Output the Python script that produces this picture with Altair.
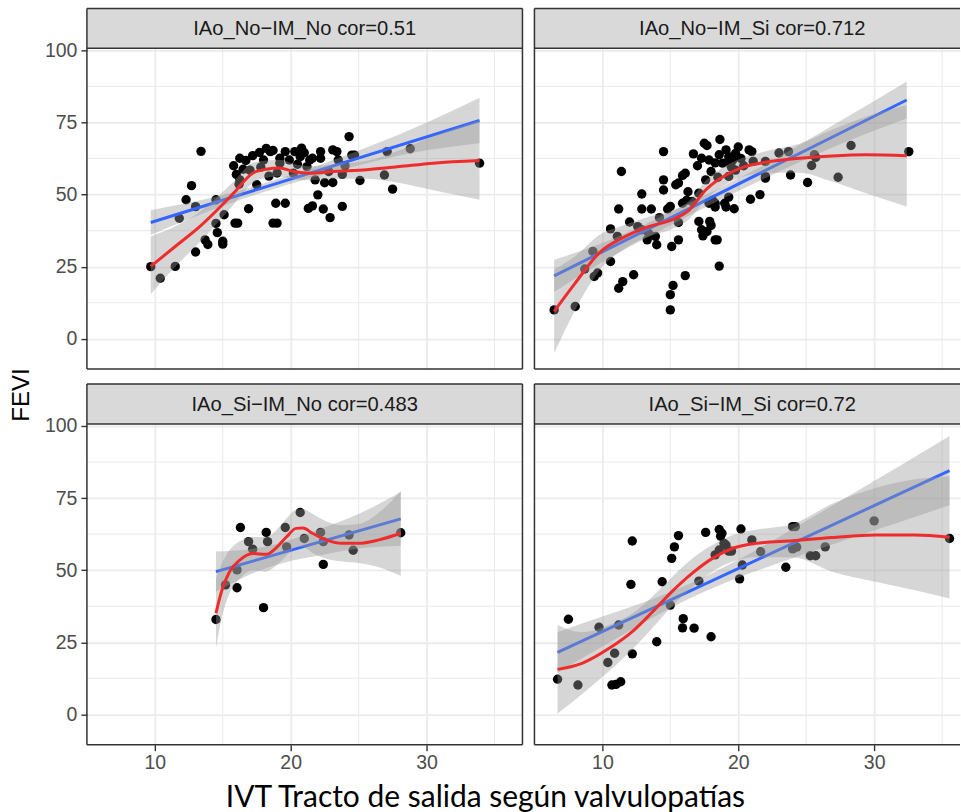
import altair as alt
import pandas as pd

# ---------------- data ----------------
strip_labels = ["IAo_No−IM_No cor=0.51", "IAo_No−IM_Si cor=0.712",
                "IAo_Si−IM_No cor=0.483", "IAo_Si−IM_Si cor=0.72"]
x_title = "IVT Tracto de salida según valvulopatías"
y_title = "FEVI"
x_ticks = [10, 20, 30]
y_ticks = [0, 25, 50, 75, 100]
x_minor = [15, 25, 35]
y_minor = [12.5, 37.5, 62.5, 87.5]

# --- IAo_No-IM_No ---
tl_x = [9.7, 10.4, 11.5, 11.8, 12.3, 12.7, 13.0, 13.0, 13.4, 13.7, 13.9, 14.5, 14.5, 14.6, 15.0,
        15.0, 15.1, 15.9, 16.1, 15.8, 16.0, 16.25, 16.2, 16.25, 16.9, 16.7, 17.2, 17.5, 17.7, 18.2,
        18.5, 18.7, 18.4, 18.7, 19.0, 18.9, 19.6, 19.6, 19.2, 19.2, 19.9, 20.2, 20.3, 20.8, 20.7,
        21.2, 21.4, 21.6, 21.3, 21.6, 21.8, 22.0, 22.2, 22.2, 22.4, 22.9, 22.5, 23.1, 23.1, 23.4,
        23.5, 23.8, 24.3, 24.5, 24.7, 25.1, 26.9, 27.1, 27.5, 28.8, 33.9, 17.0, 17.8, 19.0, 20.5,
        22.8, 23.8, 24.0, 16.5, 18.0, 21.0]
tl_y = [25.0, 21.0, 25.1, 41.8, 48.2, 53.1, 45.8, 30.1, 65.0, 34.3, 32.7, 48.2, 40.0, 36.8, 33.8,
        32.8, 43.0, 40.1, 40.1, 60.0, 57.0, 55.1, 53.6, 62.6, 45.1, 61.8, 63.5, 53.4, 64.6, 66.0,
        64.9, 65.3, 56.4, 40.1, 40.1, 47.0, 47.0, 64.9, 60.9, 62.6, 62.0, 57.4, 64.9, 66.1, 63.1,
        59.7, 62.0, 62.6, 45.2, 46.1, 55.1, 49.9, 64.9, 62.6, 45.0, 42.0, 54.1, 54.2, 65.5, 64.9,
        62.0, 45.9, 70.1, 63.7, 63.7, 54.9, 56.8, 64.9, 51.9, 65.9, 60.9, 58.5, 59.5, 57.5, 60.5,
        58.0, 57.0, 60.0, 58.8, 62.0, 64.5]
tl_lm_x = [9.7, 33.9]
tl_lm_y = [40.3, 75.7]
tl_lmb_x = [9.7, 14, 19.5, 24, 29, 33.9]
tl_lmb_lo = [36.0, 44.3, 53.1, 58.9, 64.5, 67.8]
tl_lmb_hi = [44.6, 48.7, 56.1, 63.5, 72.9, 83.6]
tl_lo_x = [9.7, 11.5, 13.3, 15.8, 17.2, 18.2, 19.2, 20.2, 21.4, 23.1, 25.6, 28.0, 30.5, 33.9]
tl_lo_y = [25.1, 32.0, 38.9, 50.5, 57.4, 58.8, 59.2, 58.0, 57.4, 58.0, 58.6, 59.7, 60.9, 61.8]
tl_lo_lo = [15.5, 25.0, 33.5, 46.5, 54.0, 55.8, 56.3, 55.3, 55.0, 55.5, 55.5, 54.0, 51.5, 48.2]
tl_lo_hi = [35.5, 39.0, 44.0, 54.5, 61.0, 61.8, 62.1, 60.7, 59.8, 60.5, 61.7, 65.4, 70.3, 75.8]

# --- IAo_No-IM_Si ---
tr_x = [6.45, 8.0, 8.7, 9.3, 9.4, 9.65, 10.6, 10.6, 11.1, 11.2, 11.4, 11.2, 11.5, 12.3, 12.6,
        12.9, 12.9, 13.6, 13.3, 13.4, 12.9, 13.9, 14.0, 14.5, 14.5, 14.5, 14.8, 15.0, 15.1, 15.0,
        15.0, 15.2, 16.1, 15.6, 15.6, 15.9, 15.6, 15.9, 16.1, 15.4, 16.2, 16.6, 16.7, 17.1, 17.1,
        17.3, 17.6, 17.3, 17.7, 17.4, 17.9, 17.7, 17.85, 18.1, 18.3, 18.3, 18.45, 18.6, 18.65, 18.6,
        18.85, 18.3, 19.1, 19.3, 19.3, 19.5, 19.6, 19.7, 19.1, 19.0, 19.3, 19.8, 19.3, 20.9, 21.0,
        21.6, 22.0, 22.0, 23.0, 23.7, 23.85, 25.1, 25.4, 25.7, 27.35, 28.3, 32.55, 18.0, 18.5, 19.8,
        20.2, 20.4, 17.0, 16.3, 12.0, 20.0, 17.5, 20.8, 21.1, 22.0, 25.6, 17.85, 18.0, 18.3, 14.2]
tr_y = [10.0, 11.2, 24.2, 30.3, 21.6, 22.8, 26.8, 38.1, 35.5, 45.0, 58.0, 17.5, 19.8, 22.2, 38.9,
        50.2, 45.0, 45.0, 34.3, 36.6, 37.8, 35.5, 32.6, 64.9, 55.1, 51.6, 45.0, 45.9, 32.0, 10.0,
        15.3, 18.5, 21.9, 40.3, 34.3, 47.0, 54.0, 56.6, 57.4, 53.4, 48.0, 47.6, 64.1, 40.7, 50.5,
        62.6, 55.1, 37.8, 37.2, 35.7, 40.7, 67.0, 62.0, 48.0, 45.7, 47.0, 34.3, 25.2, 69.1, 63.8,
        60.9, 61.0, 65.5, 63.1, 61.2, 59.5, 62.0, 45.1, 45.7, 47.0, 49.1, 64.3, 56.3, 48.4, 64.9,
        50.0, 56.3, 61.5, 64.4, 64.9, 56.8, 54.2, 60.1, 62.9, 56.0, 67.0, 64.9, 58.0, 56.0, 58.5,
        62.5, 60.0, 60.0, 51.0, 40.5, 66.5, 67.8, 65.5, 61.5, 55.7, 63.8, 47.0, 39.3, 34.3, 42.0]
tr_lm_x = [6.45, 32.4]
tr_lm_y = [21.8, 82.8]
tr_lmb_x = [6.45, 10, 16, 22, 27, 32.4]
tr_lmb_lo = [16.2, 26.6, 41.8, 55.7, 66.5, 76.4]
tr_lmb_hi = [27.4, 33.2, 46.2, 60.5, 74.1, 89.2]
tr_lo_x = [6.45, 8.0, 9.75, 11.7, 13.4, 15.1, 16.4, 17.6, 19.1, 20.5, 22.0, 24.5, 26.9, 29.4, 32.4]
tr_lo_y = [9.5, 19.3, 29.7, 35.5, 38.9, 41.2, 44.7, 51.6, 56.8, 59.7, 61.2, 62.6, 63.4, 63.8, 63.5]
tr_lo_lo = [-5.0, 10.0, 23.5, 31.5, 35.5, 38.0, 41.5, 48.4, 53.6, 56.4, 57.5, 57.6, 54.5, 50.5, 45.9]
tr_lo_hi = [24.0, 28.6, 35.9, 39.5, 42.3, 44.4, 47.9, 54.8, 60.0, 63.0, 65.0, 67.6, 72.5, 77.0, 81.1]

# --- IAo_Si-IM_No ---
bl_x = [14.5, 15.2, 16.05, 16.05, 16.3, 16.9, 17.2, 18.0, 18.2, 18.3, 19.6, 19.7, 20.7, 21.0,
        22.2, 22.4, 22.4, 24.3, 24.6, 28.1]
bl_y = [32.9, 44.9, 43.9, 50.1, 64.8, 59.9, 57.3, 37.0, 63.1, 59.9, 64.8, 58.1, 70.0, 61.0,
        63.1, 52.0, 59.9, 62.2, 56.9, 63.0]
bl_lm_x = [14.5, 28.1]
bl_lm_y = [49.5, 67.8]
bl_lmb_x = [14.5, 17, 19.5, 22, 25, 28.1]
bl_lmb_lo = [42.5, 48.5, 52.6, 55.0, 57.5, 58.5]
bl_lmb_hi = [56.5, 57.3, 59.8, 64.0, 69.5, 77.1]
bl_lo_x = [14.5, 14.9, 15.5, 16.25, 17.2, 18.2, 18.9, 19.7, 20.4, 20.9, 21.6, 22.6, 23.8, 25.0, 26.5, 28.1]
bl_lo_y = [35.1, 42.5, 49.5, 53.5, 55.8, 55.5, 57.6, 61.6, 64.5, 64.6, 62.8, 60.5, 59.3, 59.3, 60.5, 62.8]
bl_lo_lo = [23, 33, 42, 47, 50, 49.5, 51.5, 55, 58, 58, 56, 54, 53, 52.5, 51, 48]
bl_lo_hi = [47, 52, 57, 60, 61.5, 61.5, 63.7, 68, 71, 71.2, 69.6, 67, 65.6, 66, 70, 77.5]

# --- IAo_Si-IM_Si ---
br_x = [6.7, 7.5, 8.2, 9.75, 10.4, 10.9, 10.7, 11.0, 11.35, 11.2, 12.2, 12.1, 12.2, 14.0, 14.4,
        15.0, 15.1, 15.3, 15.6, 15.95, 15.9, 16.75, 17.1, 17.6, 18.0, 18.6, 18.7, 18.3, 18.6, 18.95,
        19.1, 19.3, 19.5, 18.8, 20.2, 20.1, 20.3, 21.0, 21.65, 23.5, 24.0, 24.2, 24.0, 24.3, 25.3,
        25.7, 26.4, 30.0, 35.55]
br_y = [12.2, 33.0, 10.2, 30.2, 18.0, 21.2, 10.2, 10.4, 11.3, 31.0, 60.1, 45.1, 21.0, 25.2, 46.0,
        37.9, 54.1, 58.1, 62.0, 33.2, 30.0, 29.9, 46.2, 63.1, 26.9, 64.1, 61.8, 55.3, 57.0, 59.3,
        58.7, 56.6, 56.6, 62.8, 64.3, 47.0, 51.8, 60.5, 56.4, 51.0, 65.1, 65.1, 57.4, 58.0, 55.0,
        55.0, 58.1, 67.1, 61.0]
br_lm_x = [6.7, 35.55]
br_lm_y = [21.5, 84.5]
br_lmb_x = [6.7, 10, 14, 17, 20, 24, 28, 32, 35.55]
br_lmb_lo = [14.5, 23.5, 34.3, 41.5, 47.4, 54.1, 60.6, 66.9, 72.5]
br_lmb_hi = [28.5, 33.9, 40.5, 46.5, 53.6, 64.3, 75.4, 86.5, 96.5]
br_lo_x = [6.7, 8.5, 10.5, 12.2, 13.7, 15.1, 16.6, 18.1, 19.6, 21.3, 24.0, 26.9, 30.1, 33.0, 35.55]
br_lo_y = [15.6, 17.7, 22.9, 28.7, 35.6, 42.5, 48.9, 54.1, 57.6, 59.3, 60.2, 61.3, 62.2, 62.2, 61.4]
br_lo_lo = [0.3, 7, 15, 22.5, 30, 37.5, 44, 49.5, 53, 54.5, 54.5, 49.5, 46, 43, 40.2]
br_lo_hi = [31, 28.5, 31, 35, 41, 47.5, 54, 58.7, 62.2, 64, 66, 73, 78.5, 81.5, 82.6]

# ---------------- layout / style ----------------
W_L, W_R, H, STRIP = 436, 426, 321, 40
Y_DOM = [-10.5, 100.7]
XDOM_L = [5.0, 37.06]
XDOM_R = [5.0, 36.32]
BORDER = "#333333"
BW = 1.5
GRID = "#EBEBEB"
FONT = "Liberation Sans"


def panel(label, px, py, lmx, lmy, lbx, lblo, lbhi, lox, loy, lolo, lohi,
          width, xdom, show_x, show_y, right_border):
    xs = alt.Scale(domain=xdom, nice=False, zero=False)
    ys = alt.Scale(domain=Y_DOM, nice=False, zero=False)
    common = dict(title=None, grid=True, gridColor=GRID, gridWidth=1.8, domain=False,
                  tickColor=BORDER, tickWidth=1.4, tickSize=6, labelColor="#4D4D4D",
                  labelFont=FONT, labelFontSize=19.5)
    xa = alt.Axis(values=x_ticks, labels=show_x, ticks=show_x, labelPadding=3, **common)
    ya = alt.Axis(values=y_ticks, labels=show_y, ticks=show_y, labelPadding=4, **common)

    def X(f):
        return alt.X(f, type="quantitative", scale=xs, axis=xa)

    def Y(f):
        return alt.Y(f, type="quantitative", scale=ys, axis=ya)

    one = pd.DataFrame({"label": [label]})
    layers = []
    layers.append(alt.Chart(pd.DataFrame({"y": y_minor})).mark_rule(color=GRID, strokeWidth=1.1)
                  .encode(y=Y("y")))
    layers.append(alt.Chart(pd.DataFrame({"x": x_minor})).mark_rule(color=GRID, strokeWidth=1.1)
                  .encode(x=X("x")))
    layers.append(alt.Chart(one).mark_rect(fill="#D9D9D9")
                  .encode(x=alt.value(0), x2=alt.value(width), y=alt.value(-STRIP), y2=alt.value(0)))
    layers.append(alt.Chart(one).mark_text(font=FONT, fontSize=20.2, color="#1A1A1A",
                                            align="center", baseline="middle")
                  .encode(text="label:N", x=alt.value(218), y=alt.value(-STRIP / 2 + 1)))
    layers.append(alt.Chart(pd.DataFrame({"x": px, "y": py})).mark_circle(size=88, color="black", opacity=1)
                  .encode(x=X("x"), y=Y("y")))
    layers.append(alt.Chart(pd.DataFrame({"x": lbx, "lo": lblo, "hi": lbhi}))
                  .mark_area(color="#999999", opacity=0.4, interpolate="monotone")
                  .encode(x=X("x"), y=Y("lo"), y2=alt.Y2("hi")))
    layers.append(alt.Chart(pd.DataFrame({"x": lmx, "y": lmy}))
                  .mark_line(color="#3366FF", strokeWidth=3)
                  .encode(x=X("x"), y=Y("y")))
    layers.append(alt.Chart(pd.DataFrame({"x": lox, "lo": lolo, "hi": lohi}))
                  .mark_area(color="#999999", opacity=0.4, interpolate="monotone")
                  .encode(x=X("x"), y=Y("lo"), y2=alt.Y2("hi")))
    layers.append(alt.Chart(pd.DataFrame({"x": lox, "y": loy}))
                  .mark_line(color="#EE2C2C", strokeWidth=3, interpolate="monotone")
                  .encode(x=X("x"), y=Y("y")))
    # borders of strip and panel
    rule = dict(color=BORDER, strokeWidth=BW)
    layers.append(alt.Chart(one).mark_rule(**rule)
                  .encode(x=alt.value(0), y=alt.value(-STRIP), y2=alt.value(H)))
    for yy in (-STRIP, 0, H):
        layers.append(alt.Chart(one).mark_rule(**rule)
                      .encode(y=alt.value(yy), x=alt.value(0), x2=alt.value(width)))
    if right_border:
        layers.append(alt.Chart(one).mark_rule(**rule)
                      .encode(x=alt.value(width), y=alt.value(-STRIP), y2=alt.value(H)))
    return alt.layer(*layers).properties(width=width, height=H)


tl = panel(strip_labels[0], tl_x, tl_y, tl_lm_x, tl_lm_y, tl_lmb_x, tl_lmb_lo, tl_lmb_hi,
           tl_lo_x, tl_lo_y, tl_lo_lo, tl_lo_hi, W_L, XDOM_L, False, True, True)
tr = panel(strip_labels[1], tr_x, tr_y, tr_lm_x, tr_lm_y, tr_lmb_x, tr_lmb_lo, tr_lmb_hi,
           tr_lo_x, tr_lo_y, tr_lo_lo, tr_lo_hi, W_R, XDOM_R, False, False, False)
bl = panel(strip_labels[2], bl_x, bl_y, bl_lm_x, bl_lm_y, bl_lmb_x, bl_lmb_lo, bl_lmb_hi,
           bl_lo_x, bl_lo_y, bl_lo_lo, bl_lo_hi, W_L, XDOM_L, True, True, True)
br = panel(strip_labels[3], br_x, br_y, br_lm_x, br_lm_y, br_lmb_x, br_lmb_lo, br_lmb_hi,
           br_lo_x, br_lo_y, br_lo_lo, br_lo_hi, W_R, XDOM_R, True, False, False)

grid = alt.concat(tl, tr, bl, br, columns=2, spacing={"row": 13, "column": 10}, align="each")

fevi = (alt.Chart(pd.DataFrame({"t": [y_title]}))
        .mark_text(angle=270, font=FONT, fontSize=24, color="black",
                   align="center", baseline="alphabetic")
        .encode(text="t:N", x=alt.value(0), y=alt.value(347))
        .properties(width=1, height=1))

chart = (alt.hconcat(fevi, grid, spacing=10)
         .properties(
             title=alt.TitleParams(x_title, orient="bottom", anchor="middle", font="Lato",
                                   fontSize=30, fontWeight="normal", color="black",
                                   baseline="alphabetic", offset=35),
             padding={"left": 10, "top": 7, "right": 0, "bottom": 0})
         .configure_view(stroke=None))

chart.save("out.html", embed_options={"renderer": "svg", "actions": False})
